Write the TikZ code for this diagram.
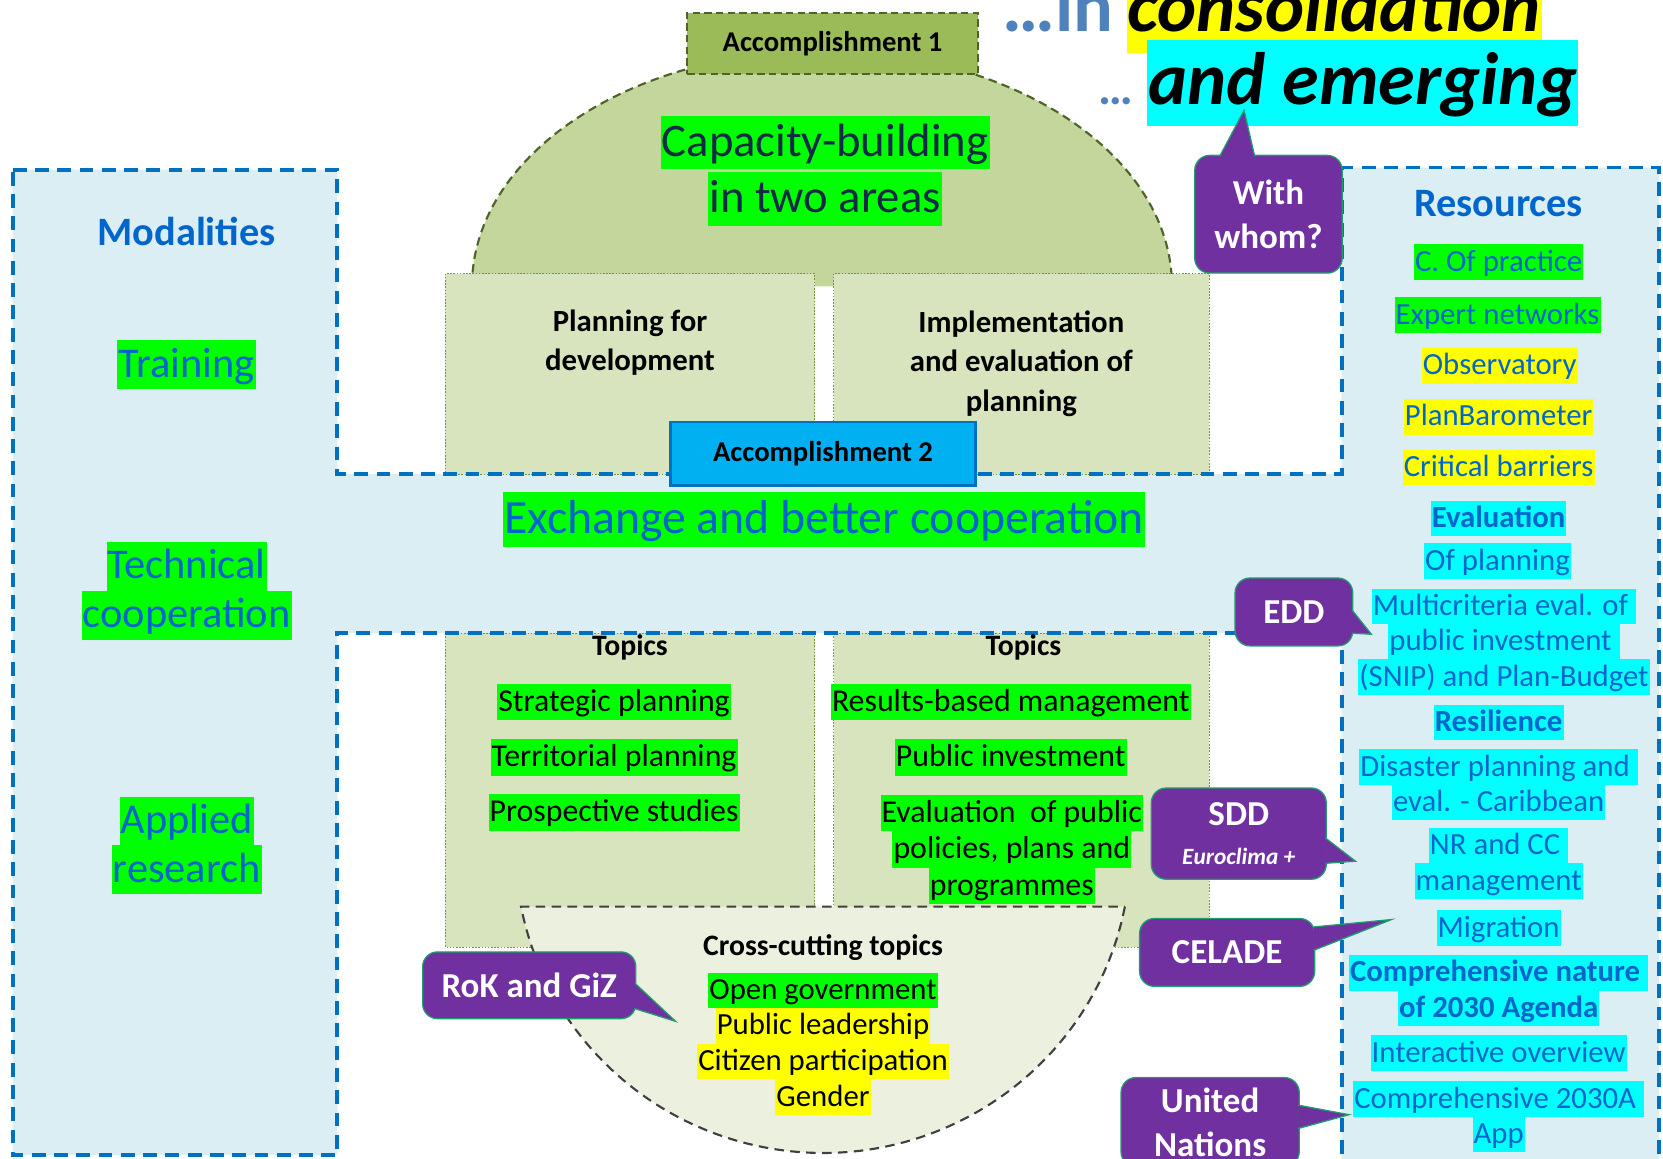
\documentclass[tikz,border=0pt]{standalone}
\usepackage{fontspec}
\setmainfont{Carlito}
\usetikzlibrary{calc}

\definecolor{bandfill}{HTML}{DAEEF3}
\definecolor{bandline}{HTML}{0070C0}
\definecolor{txtblue}{HTML}{0066CC}
\definecolor{domefill}{HTML}{C3D69B}
\definecolor{domeline}{HTML}{4F6228}
\definecolor{accone}{HTML}{9BBB59}
\definecolor{areafill}{HTML}{D7E4BD}
\definecolor{arealine}{HTML}{77933C}
\definecolor{crossfill}{HTML}{EBF1DE}
\definecolor{acctwo}{HTML}{00B0F0}
\definecolor{hlgreen}{HTML}{00FF00}
\definecolor{hlyellow}{HTML}{FFFF00}
\definecolor{hlcyan}{HTML}{00FFFF}
\definecolor{callpurple}{HTML}{7030A0}
\definecolor{callgreen}{HTML}{1E9E6E}
\definecolor{headblue}{HTML}{4F81BD}
\definecolor{capnavy}{HTML}{102A48}

\newcommand\hlbox[2]{{\setlength{\fboxsep}{0pt}\colorbox{#1}{\rule[-.28em]{0pt}{1.15em}\kern1pt#2\kern1pt}}}

\begin{document}
\begin{tikzpicture}[x=1pt, y=-1pt,
  txt/.style={inner sep=0pt, align=center},
  bandedge/.style={draw=bandline, line width=3.5pt, dash pattern=on 13pt off 8pt},
  domeedge/.style={draw=domeline, line width=2pt, dash pattern=on 8pt off 5pt},
  area/.style={fill=areafill, draw=arealine, line width=0.7pt, dash pattern=on 1.5pt off 1.5pt},
  crossarea/.style={fill=crossfill, draw=black!75, line width=2pt, dash pattern=on 9pt off 6pt},
  accbox/.style={txt, font=\bfseries\fontsize{27}{30}\selectfont},
  modal/.style={txt, text=txtblue, font=\fontsize{40}{46}\selectfont},
  topic/.style={txt, font=\fontsize{30}{34.5}\selectfont},
  topichead/.style={txt, font=\bfseries\fontsize{28}{32}\selectfont},
  resitem/.style={txt, text=txtblue, font=\fontsize{29}{33.4}\selectfont},
  resbold/.style={resitem, font=\bfseries\fontsize{29}{33.4}\selectfont},
  reshead/.style={txt, text=txtblue, font=\bfseries\fontsize{38}{44}\selectfont},
  heading/.style={inner sep=0pt, font=\bfseries\itshape\fontsize{70}{80}\selectfont},
  callbox/.style={fill=callpurple, draw=callgreen, line width=1.2pt, rounded corners=14pt,
    text=white, align=center, inner sep=0pt, font=\bfseries\fontsize{33}{41}\selectfont},
  calltail/.style={fill=callpurple, draw=callgreen, line width=1.2pt}
]
\useasboundingbox (0,0) rectangle (1568,1092);

\fill[bandfill] (12,160) -- (318,160) -- (318,447) -- (1265,447) -- (1265,158) -- (1564,158)
  -- (1564,1100) -- (1265,1100) -- (1265,597) -- (318,597) -- (318,1089) -- (12,1089) -- cycle;

\fill[domefill] (445,270) arc[start angle=180, end angle=360, x radius=330, y radius=222] -- cycle;
\draw[domeedge] (445,270) arc[start angle=180, end angle=360, x radius=330, y radius=222];

\draw[area] (420,258) rectangle (768,447);
\draw[area] (786,258) rectangle (1140,447);
\draw[area] (420,597) rectangle (768,893);
\draw[area] (786,597) rectangle (1140,893);

\draw[bandedge] (12,160) -- (318,160) -- (318,447) -- (1265,447) -- (1265,158) -- (1564,158)
  -- (1564,1100) -- (1265,1100) -- (1265,597) -- (318,597) -- (318,1089) -- (12,1089) -- cycle;

\filldraw[crossarea] (1060.6,854.8) arc[start angle=11, end angle=169, x radius=290, y radius=287] -- cycle;

\node[accbox, fill=accone, draw=domeline, line width=1.8pt, dash pattern=on 7pt off 4pt,
  minimum width=274, minimum height=58] (acc1) at (785,41) {Accomplishment 1};
\node[txt, text=capnavy, font=\fontsize{44}{53}\selectfont] (capac) at (778,161)
  {\hlbox{hlgreen}{Capacity-building}\\\hlbox{hlgreen}{in two areas}};
\node[accbox, font=\bfseries\fontsize{29}{37}\selectfont] (plandev) at (594,323) {Planning for\\development};
\node[accbox, font=\bfseries\fontsize{29}{37}\selectfont] (impl) at (963,343) {Implementation\\and evaluation of\\planning};
\node[accbox, fill=acctwo, draw=bandline, line width=2.5pt,
  minimum width=288, minimum height=60] (acc2) at (776,428) {Accomplishment 2};
\node[txt, text=txtblue, font=\fontsize{45}{52}\selectfont] (exch) at (777,490)
  {\hlbox{hlgreen}{Exchange and better cooperation}};

\node[reshead] (modal) at (176,218) {Modalities};
\node[modal] (train) at (176,344) {\hlbox{hlgreen}{Training}};
\node[modal] (techc) at (176,557) {\hlbox{hlgreen}{Technical}\\\hlbox{hlgreen}{cooperation}};
\node[modal] (applr) at (176,797) {\hlbox{hlgreen}{Applied}\\\hlbox{hlgreen}{research}};

\node[topichead] (topl) at (594,610) {Topics};
\node[topichead] (topr) at (965,610) {Topics};
\node[topic] (strat) at (579,662) {\hlbox{hlgreen}{Strategic planning}};
\node[topic] (territ) at (579,714) {\hlbox{hlgreen}{Territorial planning}};
\node[topic] (prosp) at (579,766) {\hlbox{hlgreen}{Prospective studies}};
\node[topic] (resman) at (953,662) {\hlbox{hlgreen}{Results-based management}};
\node[topic] (pubinv) at (953,714) {\hlbox{hlgreen}{Public investment}};
\node[topic] (evalpp) at (954,801) {\hlbox{hlgreen}{Evaluation\ \ of public}\\\hlbox{hlgreen}{policies, plans and}\\\hlbox{hlgreen}{programmes}};

\node[topichead] (crosst) at (776,893) {Cross-cutting topics};
\node[txt, font=\fontsize{29}{33.5}\selectfont] (crossl) at (776,984)
  {\hlbox{hlgreen}{Open government}\\\hlbox{hlyellow}{Public leadership}\\\hlbox{hlyellow}{Citizen participation}\\\hlbox{hlyellow}{Gender}};

\node[reshead] (resour) at (1413,192) {Resources};
\node[resitem] (res1) at (1413,247) {\hlbox{hlgreen}{C. Of practice}};
\node[resitem] (res2) at (1412,297) {\hlbox{hlgreen}{Expert networks}};
\node[resitem] (res3) at (1414,345) {\hlbox{hlyellow}{Observatory}};
\node[resitem] (res4) at (1413,393) {\hlbox{hlyellow}{PlanBarometer}};
\node[resitem] (res5) at (1413,441) {\hlbox{hlyellow}{Critical barriers}};
\node[resbold] (res6) at (1413,489) {\hlbox{hlcyan}{Evaluation}};
\node[resitem] (res7) at (1412,529) {\hlbox{hlcyan}{Of planning}};
\node[resitem] (res8) at (1418,605) {\hlbox{hlcyan}{Multicriteria eval. of }\\\hlbox{hlcyan}{public investment }\\\hlbox{hlcyan}{(SNIP) and Plan-Budget}};
\node[resbold] (res9) at (1413,681) {\hlbox{hlcyan}{Resilience}};
\node[resitem] (res10) at (1413,740) {\hlbox{hlcyan}{Disaster planning and }\\\hlbox{hlcyan}{eval. - Caribbean}};
\node[resitem] (res11) at (1413,814) {\hlbox{hlcyan}{NR and CC }\\\hlbox{hlcyan}{management}};
\node[resitem] (res12) at (1413,875) {\hlbox{hlcyan}{Migration}};
\node[resbold] (res13) at (1413,934) {\hlbox{hlcyan}{Comprehensive nature }\\\hlbox{hlcyan}{of 2030 Agenda}};
\node[resitem] (res14) at (1413,993) {\hlbox{hlcyan}{Interactive overview}};
\node[resitem] (res15) at (1413,1053) {\hlbox{hlcyan}{Comprehensive 2030A }\\\hlbox{hlcyan}{App}};

\node[inner sep=0pt, anchor=base west, text=headblue, font=\bfseries\fontsize{70}{80}\selectfont] (inword) at (945,30) {…in};
\node[heading, anchor=base] (consol) at (1258,30) {\hlbox{hlyellow}{consolidation}};
\node[inner sep=0pt, anchor=base west, text=headblue, font=\bfseries\fontsize{46}{50}\selectfont] (dots) at (1036,99) {…};
\node[heading, anchor=base] (emerg) at (1285,99) {\hlbox{hlcyan}{and emerging}};

\node[callbox, minimum width=139, minimum height=111] (whom) at (1196,202) {With\\whom?};
\coordinate (whomtip) at (1173,104);
\filldraw[calltail] ($(whom.north)+(-46,1.5)$) -- (whomtip) -- ($(whom.north)+(-13,1.5)$);

\node[callbox, minimum width=111, minimum height=64] (edd) at (1220,577) {EDD};
\coordinate (eddtip) at (1293,598);
\filldraw[calltail] ($(edd.east)+(-1.5,-2)$) -- (eddtip) -- ($(edd.east)+(-1.5,20)$);

\node[callbox, minimum width=165, minimum height=86] (sdd) at (1168,786)
  {SDD\\[-4pt]{\itshape\fontsize{22}{24}\selectfont Euroclima +}};
\coordinate (sddtip) at (1278,812);
\filldraw[calltail] ($(sdd.east)+(-1.5,4)$) -- (sddtip) -- ($(sdd.east)+(-1.5,28)$);

\node[callbox, minimum width=165, minimum height=64] (celade) at (1157,898) {CELADE};
\coordinate (celadetip) at (1312,867);
\filldraw[calltail] ($(celade.east)+(-1.5,-24)$) -- (celadetip) -- ($(celade.east)+(-1.5,-2)$);

\node[callbox, minimum width=201, minimum height=63] (rok) at (499,929) {RoK and GiZ};
\coordinate (roktip) at (637,963);
\filldraw[calltail] ($(rok.east)+(-1.5,-2)$) -- (roktip) -- ($(rok.east)+(-1.5,22)$);

\node[callbox, minimum width=168, minimum height=84] (un) at (1141,1058) {United\\Nations};
\coordinate (untip) at (1272,1051);
\filldraw[calltail] ($(un.east)+(-1.5,-16)$) -- (untip) -- ($(un.east)+(-1.5,6)$);
\end{tikzpicture}
\end{document}
